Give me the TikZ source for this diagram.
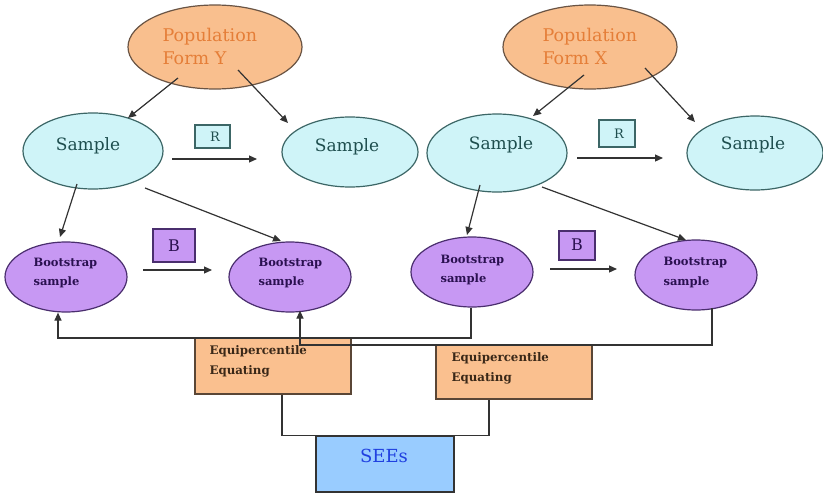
\documentclass[tikz,border=0pt]{standalone}
\usepackage{fontspec}
\setmainfont{DejaVu Serif}
\usetikzlibrary{arrows.meta,shapes.geometric}
\definecolor{popfill}{HTML}{F9BF8E}
\definecolor{poptext}{HTML}{E57E38}
\definecolor{popdraw}{HTML}{6A5444}
\definecolor{smpfill}{HTML}{CFF4F8}
\definecolor{smptext}{HTML}{1E4E4E}
\definecolor{smpdraw}{HTML}{3C6666}
\definecolor{bsfill}{HTML}{C798F3}
\definecolor{bstext}{HTML}{2A1050}
\definecolor{bsdraw}{HTML}{4A2E6E}
\definecolor{eqfill}{HTML}{FAC08F}
\definecolor{eqtext}{HTML}{3A2818}
\definecolor{eqdraw}{HTML}{5A4636}
\definecolor{seefill}{HTML}{99CCFF}
\definecolor{seetext}{HTML}{2040E0}
\definecolor{linec}{HTML}{333333}
\tikzset{
  ell/.style={ellipse, inner sep=0pt, line width=1.2pt},
  popell/.style={ell, fill=popfill, draw=popdraw, minimum width=174pt, minimum height=84pt},
  smpell/.style={ell, fill=smpfill, draw=smpdraw},
  bsell/.style={ell, fill=bsfill, draw=bsdraw, minimum width=122pt, minimum height=70pt},
  box/.style={rectangle, inner sep=0pt, line width=1.2pt},
  poptxt/.style={anchor=west, align=left, text=poptext, font=\fontsize{17.5}{23}\selectfont},
  smptxt/.style={text=smptext, font=\fontsize{17}{19}\selectfont},
  bstxt/.style={anchor=west, align=left, text=bstext, font=\fontsize{11.5}{20}\selectfont\bfseries},
  eqtxt/.style={anchor=west, align=left, text=eqtext, font=\fontsize{11.8}{19.5}\selectfont\bfseries},
  arr/.style={draw=linec, line width=1.2pt, -{Triangle[length=8pt,width=7pt]}},
  ln/.style={draw=linec, line width=1.2pt}
}
\begin{document}
\begin{tikzpicture}[x=1pt,y=-1pt]
\useasboundingbox[fill=white] (0,0) rectangle (823,493);
% populations
\node[popell] (popY) at (215,47) {};
\node[popell] (popX) at (590,47) {};
\node[poptxt] (popYt) at (159,46) {Population\\Form Y};
\node[poptxt] (popXt) at (539,46) {Population\\Form X};
% samples
\node[smpell, minimum width=140pt, minimum height=76pt] (sY1) at (93,151) {};
\node[smpell, minimum width=136pt, minimum height=70pt] (sY2) at (350,152) {};
\node[smpell, minimum width=140pt, minimum height=78pt] (sX1) at (497,153) {};
\node[smpell, minimum width=136pt, minimum height=74pt] (sX2) at (755,153) {};
\node[smptxt] (sY1t) at (88,146) {Sample};
\node[smptxt] (sY2t) at (347,147) {Sample};
\node[smptxt] (sX1t) at (501,145) {Sample};
\node[smptxt] (sX2t) at (753,145) {Sample};
% R boxes
\node[box, fill=smpfill, draw=smpdraw, minimum width=35pt, minimum height=23pt] (R1) at (212.5,136.5) {};
\node[box, fill=smpfill, draw=smpdraw, minimum width=36pt, minimum height=27pt] (R2) at (617,133.5) {};
\node[text=smptext, font=\fontsize{13}{14}\selectfont] (R1t) at (215,137) {R};
\node[text=smptext, font=\fontsize{13}{14}\selectfont] (R2t) at (619,134) {R};
% bootstrap samples
\node[bsell] (bs1) at (66,277) {};
\node[bsell] (bs2) at (290,277) {};
\node[bsell] (bs3) at (472,272) {};
\node[bsell] (bs4) at (696,275) {};
\node[bstxt] (bs1t) at (30,273) {Bootstrap\\sample};
\node[bstxt] (bs2t) at (255,273) {Bootstrap\\sample};
\node[bstxt] (bs3t) at (437,270) {Bootstrap\\sample};
\node[bstxt] (bs4t) at (660,272) {Bootstrap\\sample};
% B boxes
\node[box, fill=bsfill, draw=bsdraw, minimum width=42pt, minimum height=33pt] (B1) at (174,245.5) {};
\node[box, fill=bsfill, draw=bsdraw, minimum width=36pt, minimum height=29pt] (B2) at (577,245.5) {};
\node[text=bstext, font=\fontsize{16}{18}\selectfont] (B1t) at (174,246) {B};
\node[text=bstext, font=\fontsize{16}{18}\selectfont] (B2t) at (577,245) {B};
% equating boxes and SEEs
\node[box, fill=eqfill, draw=eqdraw, minimum width=156pt, minimum height=56pt] (eq1) at (273,366) {};
\node[box, fill=eqfill, draw=eqdraw, minimum width=156pt, minimum height=54pt] (eq2) at (514,372) {};
\node[eqtxt] (eq1t) at (206,361.5) {Equipercentile\\Equating};
\node[eqtxt] (eq2t) at (448,368.5) {Equipercentile\\Equating};
\node[box, fill=seefill, draw=linec, minimum width=138pt, minimum height=56pt] (sees) at (385,464) {};
\node[text=seetext, font=\fontsize{18}{20}\selectfont] (seest) at (384,456) {SEEs};
% connector end points
\coordinate (a1s) at (178,78);  \coordinate (a1e) at (128,118);
\coordinate (a2s) at (238,70);  \coordinate (a2e) at (288,123);
\coordinate (a3s) at (584,75);  \coordinate (a3e) at (533,116);
\coordinate (a4s) at (645,68);  \coordinate (a4e) at (695,122);
\coordinate (a5s) at (77,184);  \coordinate (a5e) at (60,237);
\coordinate (a6s) at (145,188); \coordinate (a6e) at (281,241);
\coordinate (a7s) at (480,185); \coordinate (a7e) at (467,235);
\coordinate (a8s) at (542,187); \coordinate (a8e) at (686,240);
\coordinate (r1s) at (172,159); \coordinate (r1e) at (257,159);
\coordinate (r2s) at (577,158); \coordinate (r2e) at (663,158);
\coordinate (b1s) at (143,270); \coordinate (b1e) at (212,270);
\coordinate (b2s) at (550,269); \coordinate (b2e) at (617,269);
\coordinate (lA1) at (471,338); \coordinate (lA2) at (58,338);
\coordinate (lB1) at (712,345); \coordinate (lB2) at (300,345);
% arrows
\draw[arr] (a1s) -- (a1e);
\draw[arr] (a2s) -- (a2e);
\draw[arr] (a3s) -- (a3e);
\draw[arr] (a4s) -- (a4e);
\draw[arr] (a5s) -- (a5e);
\draw[arr] (a6s) -- (a6e);
\draw[arr] (a7s) -- (a7e);
\draw[arr] (a8s) -- (a8e);
\draw[arr] (r1s) -- (r1e);
\draw[arr] (r2s) -- (r2e);
\draw[arr] (b1s) -- (b1e);
\draw[arr] (b2s) -- (b2e);
\draw[arr] (bs3.south -| lA1) -- (lA1) -- (lA2) -- (bs1.south -| lA2);
\draw[arr] (bs4.south -| lB1) ++(0,-3) -- (lB1) -- (lB2) -- ([yshift=2pt]bs2.south -| lB2);
\draw[ln] (eq1.south -| 282,0) |- (sees.north) -| (eq2.south -| 489,0);
\end{tikzpicture}
\end{document}
